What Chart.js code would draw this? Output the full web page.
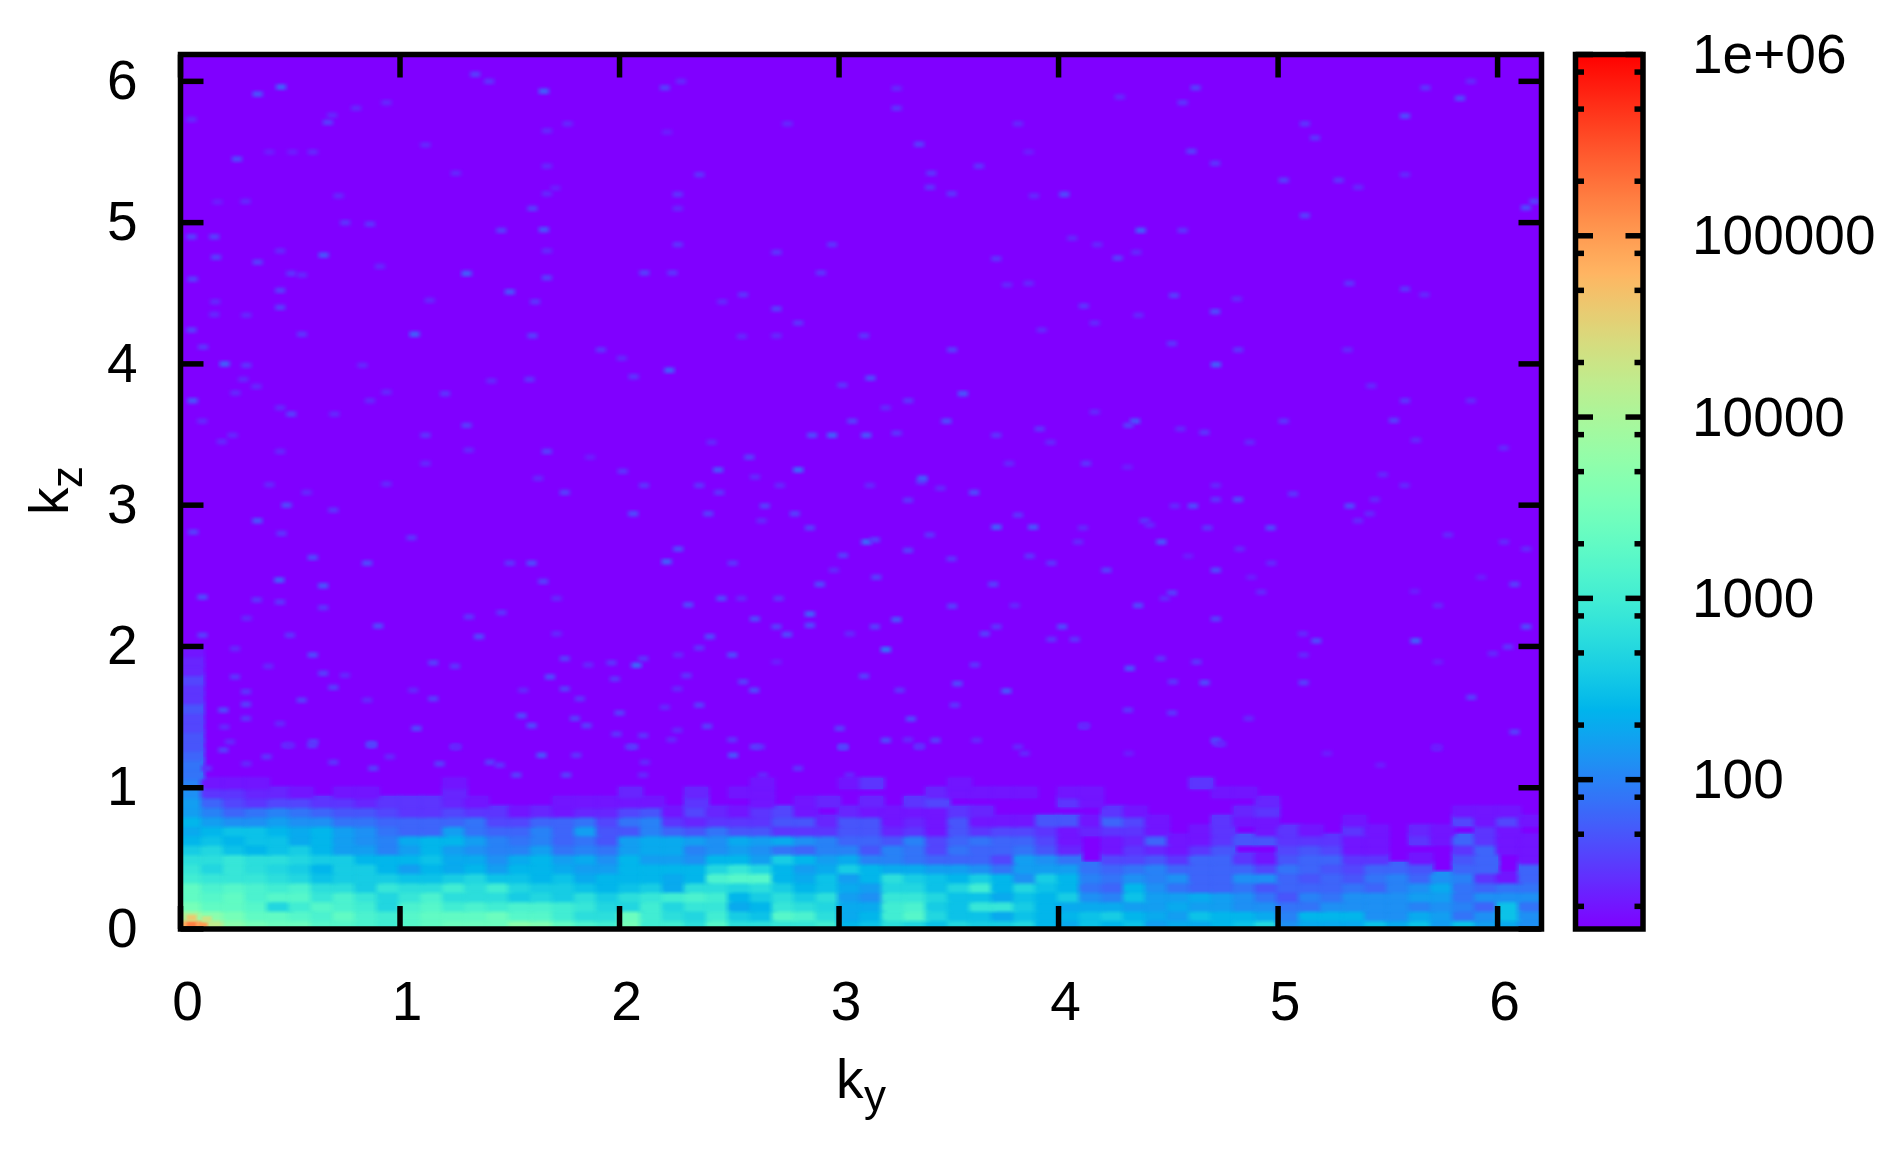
<!DOCTYPE html>
<html>
<head>
<meta charset="utf-8">
<style>html,body{margin:0;padding:0;background:#fff}canvas{position:absolute;left:0;top:0}</style>
<script src="https://cdn.jsdelivr.net/npm/chart.js@4"></script>
</head>
<body>
<canvas id="heat" width="1899" height="1153"></canvas>
<canvas id="bar" width="1899" height="1153"></canvas>
<script>
// Tick labels
const kyTicks = [0,1,2,3,4,5,6];
const kzTicks = [0,1,2,3,4,5,6];
const cbDecades = [100,1000,10000,100000,1000000];
const cbMinor = [20,50,80,200,500,800,2000,5000,8000,20000,50000,80000,200000,500000,800000];
const kyMax = 6.2, kzMax = 6.19, cbMin = 15, cbMax = 1000000;
const bandDky = 0.1, bandDkz = 1/15;

// Low-kz band: 10*log10(count), one list per kz row (bottom up), ky step 0.1
const row00=[48,42,37,35,34,34,32,32,31,30,32,33,34,34,34,37,36,33,31,30,35,30,30,28,32,28,28,29,29,30,24,25,28,27,25,27,26,26,27,24,23,25,24,25,22,23,23,24,25,27,21,23,23,23,25,23,25,22,25,22,23,21];
const row01=[40,37,35,33,33,32,31,33,31,30,32,33,33,33,34,32,32,30,28,28,34,30,28,27,30,26,25,32,31,28,23,24,30,32,27,25,25,23,25,24,24,25,26,24,23,22,25,24,24,23,20,24,24,24,21,21,23,22,19,21,25,21];
const row02=[35,33,33,32,27,30,32,31,30,27,31,32,30,31,30,31,31,30,29,27,27,30,27,29,29,23,24,29,28,27,23,23,30,31,26,25,29,29,26,24,23,23,23,22,22,23,22,22,21,21,19,19,21,21,21,21,20,21,20,18,25,19];
const row03=[33,32,33,31,32,32,29,31,29,27,29,31,28,28,28,26,27,26,28,26,28,29,30,31,30,24,26,28,26,28,22,21,29,29,27,25,25,23,25,24,26,21,20,25,22,22,23,22,21,19,17,20,19,21,21,21,22,22,19,21,21,21];
const row04=[33,31,32,31,30,31,28,28,26,29,28,28,30,28,30,27,26,26,25,24,25,26,23,28,28,27,28,26,24,25,23,22,27,27,25,27,30,24,27,25,24,19,18,24,21,19,18,18,19,17,18,18,18,19,18,20,21,23,19,18,19,19];
const row05=[30,29,29,29,28,27,25,26,26,26,25,25,26,27,25,25,24,25,23,24,24,24,23,24,31,32,32,24,23,25,22,24,28,26,25,24,26,24,21,26,24,20,19,21,20,21,18,18,21,21,18,17,18,17,19,20,18,21,20,15,13,18];
const row06=[29,27,29,28,27,26,24,26,26,24,22,24,23,24,22,24,24,23,22,22,24,24,24,24,27,29,27,24,22,23,26,24,23,23,22,22,21,19,22,22,22,19,18,19,20,18,18,18,18,16,19,18,17,16,18,18,17,12,18,18,12,18];
const row07=[28,28,29,28,28,27,26,26,24,24,24,25,23,23,21,23,24,22,23,21,24,22,22,21,24,24,22,26,24,22,23,20,20,19,18,18,18,16,22,21,19,12,16,16,17,15,18,18,15,13,17,18,18,15,15,12,13,12,17,18,12,13];
const row08=[26,27,25,24,25,26,24,22,22,20,22,24,22,21,20,20,22,19,20,19,22,23,23,20,21,22,21,19,18,20,20,17,20,19,16,19,18,18,19,17,14,12,13,15,14,13,15,17,12,12,16,17,16,13,13,12,12,12,15,18,13,13];
const row09=[24,25,24,25,25,23,24,22,21,20,23,24,24,22,20,19,20,18,19,17,22,23,23,22,21,23,22,23,21,20,18,18,17,20,16,18,19,18,18,16,13,12,13,14,18,13,13,15,17,17,15,15,15,13,13,12,15,13,18,15,13,13];
const row10=[23,24,25,25,24,23,24,22,21,19,18,18,22,19,18,18,20,18,22,17,17,20,18,17,19,17,17,15,15,15,17,17,14,15,13,17,15,16,16,15,13,14,15,15,13,12,13,15,12,13,15,13,12,15,13,12,14,13,12,15,13,12];
const row11=[24,22,21,21,22,21,21,19,19,18,18,18,18,19,16,16,18,18,19,16,19,20,15,14,15,15,15,17,17,14,17,17,13,14,13,17,13,13,13,17,17,13,18,16,13,12,12,15,13,13,12,12,12,13,12,12,12,12,16,13,16,13];
const row12=[22,20,18,19,20,19,18,17,17,16,15,15,16,15,15,13,14,13,14,14,16,17,13,16,14,13,15,16,13,12,14,13,13,13,13,15,14,12,12,12,12,12,15,13,12,12,12,12,14,15,12,12,12,12,12,12,12,12,13,13,13,12];
const row13=[22,18,16,15,16,16,15,15,14,15,15,15,14,13,12,12,12,13,13,13,13,13,12,15,12,12,13,12,13,14,12,14,12,15,16,12,12,12,12,12,15,13,12,12,12,12,12,12,12,14,12,12,12,12,12,12,12,12,12,12,12,12];
const row14=[21,15,15,14,14,13,12,13,13,12,12,12,14,12,12,12,12,12,12,12,14,12,12,14,12,13,13,12,12,12,12,12,12,12,14,13,13,13,13,12,13,13,12,12,12,12,12,13,13,12,12,12,12,12,12,12,12,12,12,12,12,12];
const row15=[20,13,13,13,12,12,12,12,12,12,12,12,13,12,12,12,12,12,12,12,12,12,12,12,12,12,13,12,12,12,13,15,12,12,12,13,12,12,12,12,12,12,12,12,12,12,15,12,12,12,12,12,12,12,12,12,12,12,12,12,12,12];
// First ky column continued upwards from kz = 16/15, same kz step
const edgeColumn=[19,19,18,17,17,16,16,17,15,15,16,14,14,13];
const bandRows=[row00,row01,row02,row03,row04,row05,row06,row07,row08,row09,row10,row11,row12,row13,row14,row15];

// Isolated spots above the band: [ky, kz, 10*log10(count)]
const spotsCorner=[[0.05,0.03,52],[0.1,0.03,50],[0.05,0.08,46],[0.12,0.07,43]];
const spotsLow=[[0.195,1.267,17],[0.119,1.137,16],[0.3,1.17,15],[0.392,1.22,16],[0.483,1.3,16],[0.6,1.3,17],[0.696,1.18,16],[0.87,1.3,18],[0.878,1.137,17],[0.953,1.22,15],[1.18,1.17,17],[1.25,1.29,16],[1.41,1.18,17],[1.454,1.16,16],[1.53,1.09,17],[1.644,1.23,19],[1.803,1.23,16],[1.757,1.09,17],[2.517,1.23,19],[2.638,1.29,16],[2.047,1.29,16],[2.115,1.18,15],[2.813,1.137,16],[3.018,1.286,17],[3.048,1.09,15],[2.653,1.09,15],[2.107,1.09,15],[3.367,1.295,15],[3.845,1.243,15],[4.725,1.314,17],[5.723,1.279,15],[5.466,1.16,14],[5.223,1.243,14],[4.32,1.243,14]];
const spotsMidLeft=[[0.058,2.81,17],[0.35,2.89,19],[0.483,3,18],[0.696,2.965,16],[0.46,2.8,16],[0.574,3.09,15],[1.75,3.09,17],[1.052,2.77,16],[0.602,2.63,18],[0.85,2.59,18],[1.599,2.59,18],[1.5,2.59,16],[0.45,2.47,20],[0.65,2.43,19],[1.652,2.46,17],[0.347,2.33,16],[0.1,2.35,18],[0.453,2.315,16],[0.65,2.275,16],[0.9,2.145,18],[1.36,2.07,18],[1.713,2.34,15],[0.301,2.2,15],[0.1,2.08,17],[0.498,2.08,16],[1.314,2.21,16],[1.462,2.24,16],[1.713,2.09,15],[1.151,1.885,17],[1.25,1.86,16],[0.602,1.94,18],[0.248,1.985,15],[1.75,1.914,17],[1.857,1.87,15],[1.963,1.885,16],[0.248,1.785,16],[0.4,1.86,15],[0.65,1.81,17],[0.749,1.796,15],[0.696,1.71,17],[1.683,1.785,18],[1.978,1.77,16],[0.298,1.68,16],[0.195,1.55,18],[0.298,1.59,17],[0.552,1.62,17],[0.85,1.62,15],[1.151,1.63,17],[1.06,1.69,15],[1.75,1.7,17],[1.561,1.69,15],[1.819,1.63,16],[1.553,1.51,18],[1.599,1.44,18],[1.796,1.49,17],[1.85,1.44,17],[2,1.53,17],[0.298,1.49,16],[0.2,1.43,15],[1.075,1.42,18],[0.453,1.454,15],[0.605,1.325,17],[0.87,1.31,18],[1.986,1.38,16],[1.257,1.29,15],[0.225,1.325,15],[0.498,1.3,15]];
const spotsMidCentre=[[2.112,3.14,16],[2.363,3.14,16],[2.73,3.14,15],[3.14,3.14,15],[3.375,3.165,16],[3.462,3.12,15],[3.615,3.09,18],[2.454,3.09,16],[2.662,2.995,17],[3.314,3.035,16],[2.062,2.94,18],[2.404,2.94,17],[2.798,2.94,17],[2.647,2.89,15],[2.867,2.84,17],[3.717,2.845,20],[3.884,2.845,19],[3.815,2.93,16],[4.111,2.84,15],[3.125,2.74,21],[3.163,2.755,17],[3.413,2.79,16],[4.089,2.74,15],[2.267,2.69,18],[3.314,2.68,17],[2.214,2.6,20],[3.018,2.645,17],[3.512,2.62,16],[3.868,2.64,16],[2.515,2.59,16],[3.967,2.59,16],[2.976,2.54,15],[3.17,2.49,17],[2.912,2.44,18],[3.702,2.44,17],[2.464,2.34,18],[2.555,2.34,15],[2.725,2.34,16],[2.313,2.295,18],[3.515,2.285,17],[3.8,2.29,15],[2.867,2.23,20],[2.867,2.15,18],[2.616,2.195,18],[3.261,2.19,19],[2.715,2.14,17],[3.163,2.14,17],[3.717,2.14,16],[4.016,2.14,18],[2.763,2.085,18],[2.411,2.07,18],[3.049,2.09,15],[3.664,2.09,17],[3.967,2.05,16],[4.073,2.05,16],[2.363,1.99,16],[3.213,1.978,22],[2.513,1.94,18],[2.267,1.94,15],[2.077,1.867,21],[2.108,1.914,16],[2.715,1.89,14],[3.618,1.87,16],[2.305,1.794,16],[3.114,1.79,17],[2.563,1.75,17],[2.613,1.69,18],[2.263,1.7,15],[3.539,1.737,18],[3.762,1.685,19],[3.276,1.69,16],[2.363,1.585,17],[2.206,1.57,15],[3.527,1.585,16],[3.327,1.487,18],[2.399,1.435,17],[2.108,1.37,16],[2.263,1.407,15],[3.003,1.42,17],[4.114,1.435,17],[3.213,1.336,18],[3.439,1.336,17],[3.314,1.34,15],[3.626,1.336,15],[2.513,1.34,16],[2.616,1.29,17],[3.018,1.29,18],[3.365,1.29,16],[3.815,1.29,15],[2.237,1.34,15],[2.062,1.29,17]];
const spotsMidRight=[[4.716,3.14,15],[5.068,3.08,16],[5.576,3.14,15],[4.716,3.04,16],[4.817,3.04,18],[4.612,2.995,18],[4.529,2.995,15],[5.326,2.995,18],[5.44,3.04,15],[4.392,2.89,16],[4.415,2.86,15],[4.678,2.84,16],[4.966,2.84,18],[5.417,2.94,15],[5.364,2.89,15],[4.468,2.74,19],[4.825,2.69,15],[5.774,2.79,15],[6.029,2.74,15],[6.13,2.69,15],[4.59,2.64,14],[4.969,2.59,15],[4.218,2.54,17],[4.716,2.54,18],[4.878,2.49,14],[5.925,2.49,14],[6.077,2.44,17],[4.517,2.38,17],[4.483,2.34,15],[4.923,2.385,15],[5.622,2.39,14],[4.362,2.29,18],[5.728,2.29,15],[4.716,2.195,17],[6.13,2.14,18],[5.113,2.09,15],[5.174,2.04,18],[5.626,2.04,20],[6.047,1.997,16],[4.465,1.915,16],[4.628,1.89,16],[5.978,1.95,15],[4.324,1.845,19],[5.116,1.94,15],[5.728,1.89,14],[4.521,1.75,16],[4.665,1.744,18],[5.116,1.744,17],[5.88,1.64,17],[4.316,1.55,16],[4.517,1.53,16],[4.866,1.49,15],[4.716,1.336,18],[4.741,1.31,15],[6.077,1.395,17],[5.723,1.29,14],[4.119,1.44,15]];
const spotsTopLeft=[[0.458,5.96,20],[0.351,5.91,19],[1.655,5.93,20],[1.343,6.05,17],[1.406,6,16],[2.206,5.955,17],[2.28,6,15],[0.671,5.71,17],[0.691,5.76,15],[0.05,5.73,15],[0.8,5.81,15],[0.938,5.85,15],[0.257,5.45,18],[0.602,5.5,15],[0.405,5.5,14],[0.51,5.5,14],[1.116,5.55,15],[1.254,5.35,15],[1.669,5.65,15],[1.669,5.4,15],[1.763,5.7,15],[2.216,5.64,14],[2.364,5.34,16],[2.765,5.7,15],[1.603,5.1,17],[1.669,5.205,15],[2.265,5.2,16],[2.265,5.1,15],[1.708,5.245,14],[0.72,5.19,15],[0.296,5.15,15],[0.168,5.146,14],[0.75,5,16],[0.863,4.99,16],[1.655,4.95,19],[1.461,4.945,17],[0.05,4.9,17],[0.154,4.9,17],[0.162,4.755,17],[0.351,4.72,17],[0.652,4.77,19],[0.454,4.8,15],[1.669,4.8,15],[2.265,4.845,16],[2.715,4.79,16],[2.968,4.845,16],[1.303,4.64,20],[1.669,4.61,17],[0.504,4.64,16],[0.553,4.63,15],[0.055,4.6,17],[2.113,4.645,17],[2.241,4.645,16],[2.917,4.645,16],[0.908,4.69,15],[0.454,4.52,17],[1.5,4.51,19],[2.563,4.49,16],[2.468,4.44,15],[1.135,4.45,15],[1.615,4.44,16],[0.158,4.44,15],[0.454,4.4,17],[2.715,4.39,17],[0.3,4.345,15],[0.154,4.35,15],[2.814,4.29,16],[0.05,4.24,17],[1.066,4.21,20],[0.553,4.21,16],[1.603,4.2,17],[2.715,4.2,15],[2.557,4.195,15],[0.103,4.12,16],[1.915,4.1,16],[0.201,4,20],[0.3,3.99,16],[0.829,3.99,15],[2.01,4.04,15],[2.064,3.91,16],[2.227,3.955,20],[1.59,3.89,16],[1.416,3.88,15],[0.286,3.89,15],[3.015,3.85,16],[0.055,3.74,19],[1.205,3.79,16],[0.938,3.8,15],[0.25,3.795,15],[0.346,3.84,15],[0.863,3.74,15],[0.504,3.645,17],[0.701,3.645,15],[0.454,3.69,15],[1.303,3.565,17],[0.099,3.595,15],[3.06,3.595,17],[2.877,3.495,18],[2.968,3.495,20],[1.116,3.495,16],[0.237,3.495,15],[0.188,3.45,15],[2.419,3.445,15],[1.313,3.39,15],[1.669,3.38,17],[0.454,3.38,15],[1.866,3.34,14],[2.591,3.34,17],[2.449,3.25,19],[2.814,3.25,21],[2.014,3.24,16],[2.617,3.2,15],[1.116,3.295,15],[0.938,3.15,15],[0.405,3.145,15],[1.629,3.19,15]];
const spotsTopRight=[[3.262,5.95,15],[3.262,5.81,16],[4.624,5.955,17],[4.279,5.89,15],[4.565,5.85,16],[5.671,5.955,16],[5.878,6,15],[5.829,5.88,18],[5.578,5.755,18],[3.815,5.7,15],[5.122,5.7,16],[5.168,5.6,16],[3.365,5.555,17],[4.605,5.505,17],[3.864,5.5,14],[4.713,5.42,16],[3.637,5.4,16],[3.42,5.35,16],[3.414,5.25,16],[3.513,5.205,16],[4.026,5.2,18],[3.888,5.19,15],[5.025,5.3,17],[5.276,5.3,16],[5.365,5.25,15],[5.578,5.34,15],[6.129,5.106,18],[6.167,5.15,17],[5.122,5.05,17],[4.374,4.945,20],[4.565,4.945,16],[4.062,4.89,15],[4.176,4.845,15],[4.269,4.75,17],[4.354,4.79,15],[3.716,4.745,16],[3.864,4.57,15],[3.765,4.56,15],[4.526,4.485,17],[4.713,4.37,18],[4.115,4.41,16],[5.578,4.53,16],[5.325,4.57,16],[4.812,4.46,15],[5.667,4.49,15],[4.364,4.345,15],[4.164,4.29,15],[3.923,4.24,15],[3.114,4.2,16],[3.515,4.1,17],[4.516,4.144,16],[4.818,4.1,16],[5.316,4.1,15],[4.717,3.995,20],[3.143,3.9,18],[5.424,3.845,15],[3.564,3.79,19],[3.315,3.74,16],[3.212,3.69,15],[5.578,3.74,16],[5.878,3.74,15],[3.489,3.595,18],[4.348,3.595,19],[4.318,3.565,17],[5.025,3.595,16],[5.527,3.6,17],[4.164,3.66,15],[3.124,3.495,19],[3.262,3.51,16],[3.716,3.495,16],[3.914,3.54,16],[4.664,3.515,16],[4.555,3.54,15],[3.963,3.445,15],[5.627,3.46,15],[6.027,3.405,15],[4.871,3.445,15],[4.125,3.295,16],[3.775,3.295,15],[3.38,3.19,20],[5.477,3.217,15],[4.314,3.27,14]];

// gnuplot rgbformulae 33,13,10
function paletteRgb(t){
  t=Math.max(0,Math.min(1,t));
  const r=Math.min(1,Math.abs(2*t-0.5)), g=Math.sin(Math.PI*t), b=Math.max(0,Math.cos(Math.PI*t/2));
  return 'rgb('+Math.round(r*255)+','+Math.round(g*255)+','+Math.round(b*255)+')';
}
function colorOf(count){
  return paletteRgb((Math.log10(count)-Math.log10(cbMin))/(Math.log10(cbMax)-Math.log10(cbMin)));
}
const imgCache={};
function cellImage(w,h,fx,fy,count){
  const key=[w,h,fx,fy,count].join('_');
  if(!imgCache[key]){
    const c=document.createElement('canvas');c.width=w;c.height=h;
    const g=c.getContext('2d');g.fillStyle=colorOf(count);g.fillRect(0,0,w,h);
    if(fx>0||fy>0){
      g.globalCompositeOperation='destination-in';
      const gx=g.createLinearGradient(0,0,w,0);
      gx.addColorStop(0,'rgba(0,0,0,0)');gx.addColorStop(fx/w,'#000');gx.addColorStop(1-fx/w,'#000');gx.addColorStop(1,'rgba(0,0,0,0)');
      g.fillStyle=gx;g.fillRect(0,0,w,h);
      const gy=g.createLinearGradient(0,0,0,h);
      gy.addColorStop(0,'rgba(0,0,0,0)');gy.addColorStop(fy/h,'#000');gy.addColorStop(1-fy/h,'#000');gy.addColorStop(1,'rgba(0,0,0,0)');
      g.fillStyle=gy;g.fillRect(0,0,w,h);
    }
    imgCache[key]=c;
  }
  return imgCache[key];
}
const countOf=l=>Math.pow(10,l/10);

const bandPoints=[];
bandRows.forEach((row,j)=>row.forEach((lv,i)=>{
  if(lv>12) bandPoints.push({x:(i+0.5)*bandDky,y:(j+0.5)*bandDkz,v:countOf(lv)});
}));
edgeColumn.forEach((lv,j)=>{
  bandPoints.push({x:0.5*bandDky,y:(bandRows.length+j+0.5)*bandDkz,v:countOf(lv)});
});
const spotScale=0.65; // spots were read slightly too strong
const spotPoints=[].concat(spotsLow,spotsMidLeft,spotsMidCentre,spotsMidRight,spotsTopLeft,spotsTopRight)
  .map(s=>({x:s[0],y:s[1],v:countOf(12+(s[2]-12)*spotScale)}));
const cornerPoints=spotsCorner.map(s=>({x:s[0],y:s[1],v:countOf(s[2])}));

const FONT='"Liberation Sans", Arial, sans-serif';
const INK='#000';
const LW=5.5;

function line(c,x1,y1,x2,y2){c.beginPath();c.moveTo(x1,y1);c.lineTo(x2,y2);c.stroke();}
function noPad(s){s.paddingTop=0;s.paddingBottom=0;s.paddingLeft=0;s.paddingRight=0;}

const heatFrame={
  id:'heatFrame',
  beforeDatasetsDraw(ch){
    const a=ch.chartArea,c=ch.ctx;c.save();c.fillStyle=colorOf(cbMin);
    c.fillRect(a.left,a.top,a.right-a.left,a.bottom-a.top);c.restore();
  },
  afterDatasetsDraw(ch){
    const a=ch.chartArea,c=ch.ctx,T=23;
    c.save();c.strokeStyle=INK;c.lineWidth=LW;c.lineCap='butt';
    ch.scales.x.ticks.forEach(t=>{const p=ch.scales.x.getPixelForValue(t.value);
      line(c,p,a.bottom,p,a.bottom-T);line(c,p,a.top,p,a.top+T);});
    ch.scales.y.ticks.forEach(t=>{const p=ch.scales.y.getPixelForValue(t.value);
      line(c,a.left,p,a.left+T,p);line(c,a.right,p,a.right-T,p);});
    c.strokeRect(a.left,a.top,a.right-a.left,a.bottom-a.top);
    // axis titles with subscripts
    c.fillStyle=INK;c.textBaseline='alphabetic';c.textAlign='left';
    c.font='55px '+FONT;c.fillText('k',836,1098);
    c.font='44px '+FONT;c.fillText('y',864,1111);
    c.translate(68,515);c.rotate(-Math.PI/2);
    c.font='55px '+FONT;c.fillText('k',0,0);
    c.font='44px '+FONT;c.fillText('z',27,14);
    c.restore();
  }
};

const bandW=Math.ceil(bandDky*219.6)+1, bandH=Math.ceil(bandDkz*141.3)+1;
new Chart(document.getElementById('heat'),{
  type:'scatter',
  data:{datasets:[
    {label:'band',data:bandPoints,order:4,pointRadius:6,
     pointStyle:ctx=>cellImage(bandW,bandH,0,0,ctx.raw?ctx.raw.v:cbMin)},
    {label:'band soft edges',data:bandPoints,order:3,pointRadius:6,
     pointStyle:ctx=>cellImage(bandW+10,bandH+6,8,5,ctx.raw?ctx.raw.v:cbMin)},
    {label:'spots',data:spotPoints,order:2,pointRadius:4,
     pointStyle:ctx=>cellImage(16,10,6,4,ctx.raw?ctx.raw.v:cbMin)},
    {label:'corner',data:cornerPoints,order:1,pointRadius:4,
     pointStyle:ctx=>cellImage(14,9,4,3,ctx.raw?ctx.raw.v:cbMin)}
  ]},
  plugins:[heatFrame],
  options:{
    responsive:false,animation:false,events:[],
    layout:{autoPadding:false,padding:{top:54.5,right:357.5,left:0,bottom:0}},
    plugins:{legend:{display:false},tooltip:{enabled:false},title:{display:false}},
    scales:{
      x:{type:'linear',min:0,max:kyMax,
        afterBuildTicks:s=>{s.ticks=kyTicks.map(v=>({value:v}));},
        afterFit:s=>{s.height=224;noPad(s);},
        grid:{display:false},border:{display:false},
        ticks:{includeBounds:false,autoSkip:false,maxRotation:0,minRotation:0,color:INK,
          font:{family:FONT,size:55},padding:35,labelOffset:7}},
      y:{type:'linear',min:0,max:kzMax,
        afterBuildTicks:s=>{s.ticks=kzTicks.map(v=>({value:v}));},
        afterFit:s=>{s.width=180.5;noPad(s);},
        grid:{display:false},border:{display:false},
        ticks:{includeBounds:false,autoSkip:false,color:INK,
          font:{family:FONT,size:55},padding:35,labelOffset:2.5}}
    }
  }
});

// Colour bar
const cbFrame={
  id:'cbFrame',
  afterDatasetsDraw(ch){
    const a=ch.chartArea,c=ch.ctx,s=ch.scales.y;
    c.save();c.strokeStyle=INK;c.lineWidth=LW;
    s.ticks.forEach(t=>{
      const T=cbDecades.includes(t.value)?17.5:8.5,p=s.getPixelForValue(t.value);
      line(c,a.left,p,a.left+T,p);line(c,a.right,p,a.right-T,p);
    });
    c.strokeRect(a.left,a.top,a.right-a.left,a.bottom-a.top);
    c.restore();
  }
};
function cbGradient(ctx){
  const a=ctx.chart.chartArea;
  if(!a) return colorOf(cbMin);
  const g=ctx.chart.ctx.createLinearGradient(0,a.bottom,0,a.top);
  for(let i=0;i<=128;i++) g.addColorStop(i/128,paletteRgb(i/128));
  return g;
}
new Chart(document.getElementById('bar'),{
  type:'bar',
  data:{labels:['palette'],datasets:[{data:[[cbMin,cbMax]],backgroundColor:cbGradient,borderWidth:0,barPercentage:1,categoryPercentage:1}]},
  plugins:[cbFrame],
  options:{
    responsive:false,animation:false,events:[],
    layout:{autoPadding:false,padding:{top:54.5,left:1575.5,right:0,bottom:224}},
    plugins:{legend:{display:false},tooltip:{enabled:false},title:{display:false}},
    scales:{
      x:{display:false},
      y:{type:'logarithmic',position:'right',min:cbMin,max:cbMax,
        afterBuildTicks:s=>{s.ticks=cbMinor.concat(cbDecades).sort((a,b)=>a-b).map(v=>({value:v}));},
        afterFit:s=>{s.width=256;noPad(s);},
        grid:{display:false},border:{display:false},
        ticks:{autoSkip:false,color:INK,font:{family:FONT,size:55},padding:41,labelOffset:3.5,
          callback:v=>v===1000000?'1e+06':(cbDecades.includes(v)?String(v):'')}}
    }
  }
});
</script>
</body>
</html>
